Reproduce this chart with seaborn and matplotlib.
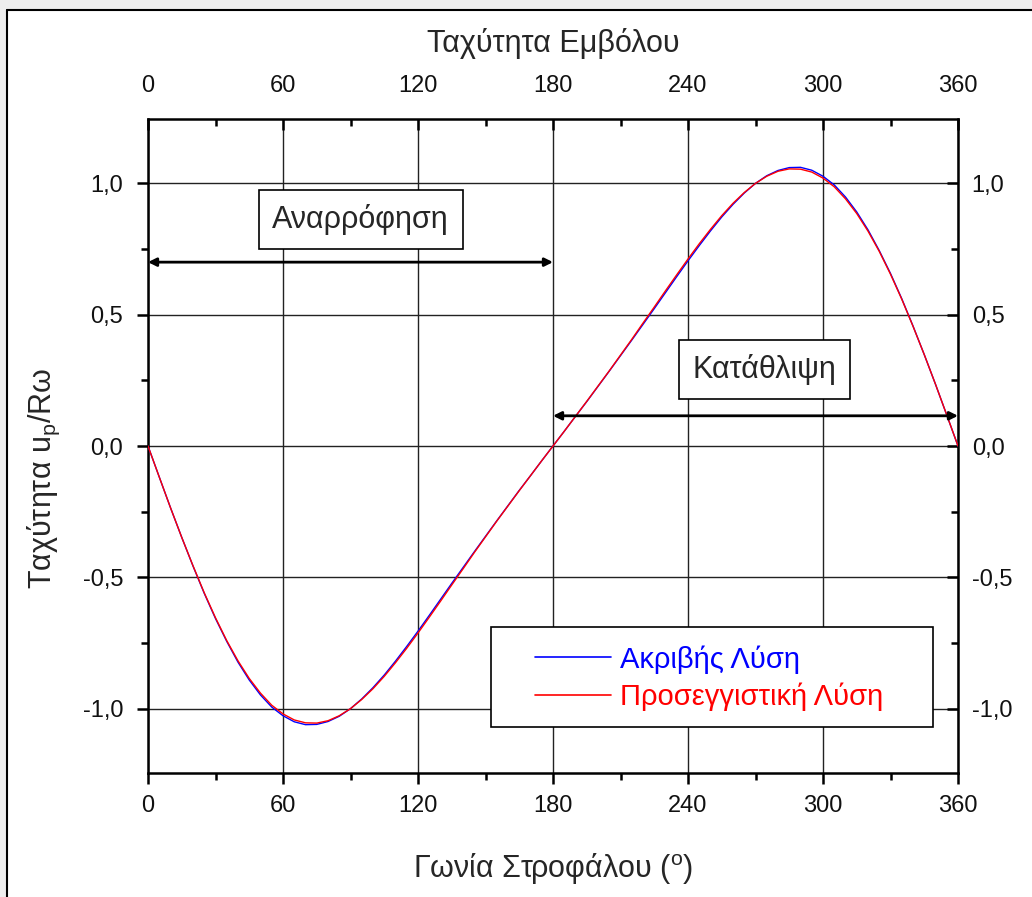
import matplotlib
matplotlib.use("Agg")
import matplotlib.pyplot as plt
from matplotlib import font_manager
from matplotlib.ticker import MultipleLocator, FuncFormatter
from matplotlib.transforms import ScaledTranslation
import seaborn as sns
import pandas as pd

# ---- data ----
angle = [0, 5, 10, 15, 20, 25, 30, 35, 40, 45, 50, 55, 60, 65, 70, 75, 80, 85, 90,
         95, 100, 105, 110, 115, 120, 125, 130, 135, 140, 145, 150, 155, 160, 165, 170, 175, 180,
         185, 190, 195, 200, 205, 210, 215, 220, 225, 230, 235, 240, 245, 250, 255, 260, 265, 270,
         275, 280, 285, 290, 295, 300, 305, 310, 315, 320, 325, 330, 335, 340, 345, 350, 355, 360]

exact = [0.000, -0.118, -0.235, -0.348, -0.457, -0.561, -0.657, -0.744, -0.823, -0.891, -0.948,
         -0.994, -1.027, -1.050, -1.061, -1.060, -1.049, -1.029, -1.000, -0.963, -0.920, -0.872,
         -0.819, -0.763, -0.705, -0.645, -0.584, -0.523, -0.463, -0.403, -0.344, -0.285, -0.227,
         -0.169, -0.113, -0.056, 0.000,
         0.056, 0.113, 0.169, 0.227, 0.285, 0.344, 0.403, 0.463, 0.523, 0.584, 0.645, 0.705,
         0.763, 0.819, 0.872, 0.920, 0.963, 1.000, 1.029, 1.049, 1.060, 1.061, 1.050, 1.027,
         0.994, 0.948, 0.891, 0.823, 0.744, 0.657, 0.561, 0.457, 0.348, 0.235, 0.118, 0.000]

approx = [0.000, -0.118, -0.235, -0.348, -0.456, -0.559, -0.654, -0.741, -0.818, -0.885, -0.941,
          -0.987, -1.020, -1.043, -1.054, -1.055, -1.046, -1.027, -1.000, -0.965, -0.924, -0.877,
          -0.825, -0.770, -0.712, -0.652, -0.591, -0.529, -0.468, -0.406, -0.346, -0.286, -0.228,
          -0.170, -0.113, -0.056, 0.000,
          0.056, 0.113, 0.170, 0.228, 0.286, 0.346, 0.406, 0.468, 0.529, 0.591, 0.652, 0.712,
          0.770, 0.825, 0.877, 0.924, 0.965, 1.000, 1.027, 1.046, 1.055, 1.054, 1.043, 1.020,
          0.987, 0.941, 0.885, 0.818, 0.741, 0.654, 0.559, 0.456, 0.348, 0.235, 0.118, 0.000]

series_names = ["Ακριβής Λύση", "Προσεγγιστική Λύση"]
series_colors = ["#0000ff", "#ff0000"]
x_ticks = [0, 60, 120, 180, 240, 300, 360]
y_ticks = [-1.0, -0.5, 0.0, 0.5, 1.0]
title = "Ταχύτητα Εμβόλου"
xlabel = "Γωνία Στροφάλου ($^{\\mathrm{o}}$)"
ylabel = "Ταχύτητα u$_{\\mathrm{p}}$/Rω"
intake_label = "Αναρρόφηση"
exhaust_label = "Κατάθλιψη"

# ---- styling ----
sns.set_theme(style="white")
plt.rcParams['font.family'] = ['Liberation Sans', 'DejaVu Sans']
plt.rcParams['mathtext.fontset'] = 'custom'
plt.rcParams['mathtext.rm'] = 'Liberation Sans'

avail = {f.name for f in font_manager.fontManager.ttflist}
tick_family = 'Liberation Sans Narrow' if 'Liberation Sans Narrow' in avail else 'Liberation Sans'
tick_size = 19 if tick_family == 'Liberation Sans Narrow' else 17

df = pd.DataFrame({
    "angle": angle * 2,
    "value": exact + approx,
    "series": [series_names[0]] * len(angle) + [series_names[1]] * len(angle),
})

fig = plt.figure(figsize=(10.32, 8.97), dpi=100)
ax = fig.add_axes([148 / 1032, 1 - 773 / 897, 810 / 1032, 654 / 897])

sns.lineplot(data=df, x="angle", y="value", hue="series",
             palette=dict(zip(series_names, series_colors)), linewidth=1.0,
             ax=ax, legend=False, zorder=3)

ax.set_xlim(0, 360)
ax.set_ylim(-1.245, 1.245)
ax.xaxis.set_major_locator(plt.FixedLocator(x_ticks))
ax.xaxis.set_minor_locator(MultipleLocator(30))
ax.yaxis.set_major_locator(plt.FixedLocator(y_ticks))
ax.yaxis.set_minor_locator(MultipleLocator(0.25))
ax.yaxis.set_major_formatter(FuncFormatter(lambda v, p: f"{v:.1f}".replace(".", ",")))
ax.grid(True, which='major', color='#222222', linewidth=1.0, zorder=0)

for s in ax.spines.values():
    s.set_linewidth(1.8)
    s.set_color('black')

ax.tick_params(which='both', bottom=True, left=True, top=True, right=True,
               labelbottom=True, labelleft=True, labeltop=True, labelright=True,
               colors='black')
ax.tick_params(which='major', length=8, width=1.8, labelsize=tick_size)
ax.tick_params(which='minor', length=5, width=1.8)
ax.tick_params(axis='x', which='both', direction='in', pad=16)
ax.tick_params(axis='y', which='both', direction='in', pad=12)
# bottom/left ticks point outward
for t in ax.xaxis.get_major_ticks() + ax.xaxis.get_minor_ticks():
    t.tick1line.set_marker(3)
for t in ax.yaxis.get_major_ticks() + ax.yaxis.get_minor_ticks():
    t.tick1line.set_marker(0)
for t in ax.yaxis.get_major_ticks():
    t.label1.set_transform(t.label1.get_transform() + ScaledTranslation(-8 / 100, 0, fig.dpi_scale_trans))
    t.label2.set_transform(t.label2.get_transform() + ScaledTranslation(-3 / 100, 0, fig.dpi_scale_trans))
for lab in ax.get_xticklabels() + ax.get_yticklabels():
    lab.set_family(tick_family)
    lab.set_color('#111111')
for t in ax.xaxis.get_major_ticks() + ax.yaxis.get_major_ticks():
    t.label2.set_family(tick_family)
    t.label2.set_color('#111111')

ax.set_xlabel(xlabel, fontsize=22, labelpad=24)
ax.set_ylabel(ylabel, fontsize=22)
ax.yaxis.set_label_coords(-0.106, 0.45)
ax.set_title(title, fontsize=22, pad=48)

# legend frame + legend
ax.add_patch(plt.Rectangle((0.423, 0.070), 0.546, 0.153, transform=ax.transAxes,
                           facecolor='white', edgecolor='black', linewidth=1.2, zorder=4.5))
handles = [plt.Line2D([], [], color=c, linewidth=1.2) for c in series_colors]
leg = ax.legend(handles, series_names, loc='center left',
                bbox_to_anchor=((535 - 148) / 810, (773 - 678) / 654),
                fontsize=21, frameon=False, handlelength=2.6, borderpad=0,
                labelspacing=0.3, handletextpad=0.3, borderaxespad=0)
leg.set_zorder(5)
for txt, c in zip(leg.get_texts(), series_colors):
    txt.set_color(c)

# stroke arrows
arr = dict(arrowstyle='<|-|>', color='black', lw=2.0, mutation_scale=12, shrinkA=0, shrinkB=0)
ax.annotate('', xy=(0, 0.70), xytext=(180, 0.70), arrowprops=arr, zorder=4)
ax.annotate('', xy=(180, 0.115), xytext=(360, 0.115), arrowprops=arr, zorder=4)

boxprops = dict(boxstyle='square,pad=0.45', facecolor='white', edgecolor='black', linewidth=1.2)
ax.text(94.5, 0.862, intake_label, fontsize=22, ha='center', va='center', bbox=boxprops, zorder=6)
ax.text(274, 0.292, exhaust_label, fontsize=22, ha='center', va='center', bbox=boxprops, zorder=6)

# outer frame like the screenshot
fig.patches.append(plt.Rectangle((0, 0), 7 / 1032, 1, transform=fig.transFigure,
                                 facecolor='#eeeeee', edgecolor='none', zorder=0))
fig.patches.append(plt.Rectangle((0, 1 - 10 / 897), 1, 10 / 897, transform=fig.transFigure,
                                 facecolor='#eeeeee', edgecolor='none', zorder=0))
fig.lines.append(plt.Line2D([7 / 1032, 7 / 1032], [0, 1 - 10 / 897], transform=fig.transFigure,
                            color='black', linewidth=1.5))
fig.lines.append(plt.Line2D([7 / 1032, 1], [1 - 10 / 897, 1 - 10 / 897], transform=fig.transFigure,
                            color='black', linewidth=1.5))

fig.savefig("out.png", dpi=100)
